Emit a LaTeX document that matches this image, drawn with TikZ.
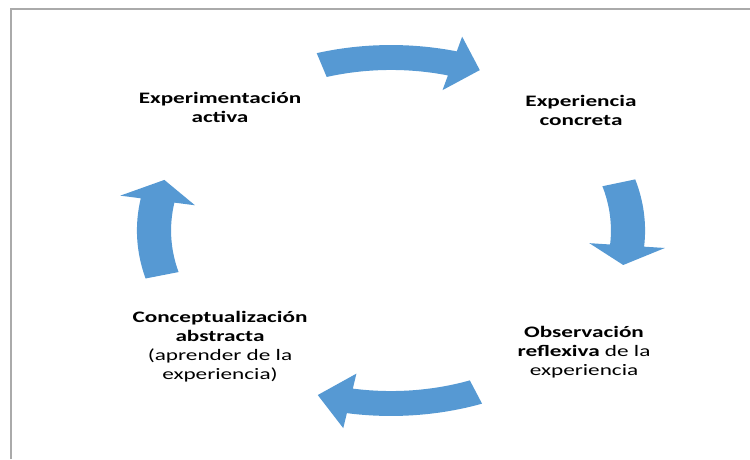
\documentclass[tikz,border=0pt]{standalone}
\usepackage{fontspec}
\setmainfont{Carlito}[FakeStretch=1.45]
\usepackage{tikz}
\usetikzlibrary{positioning}
\definecolor{cycleblue}{RGB}{86,153,211}
\definecolor{framegray}{RGB}{170,170,170}
\newcommand{\cyclearrow}[3]{%
  \fill[cycleblue] (#1:1.072) arc[start angle=#1, end angle=#2, radius=1.072]
    -- (#2:1.16) -- (#3:1.0) -- (#2:0.84) -- (#2:0.928)
    arc[start angle=#2, end angle=#1, radius=0.928] -- cycle;}

\begin{document}
\begin{tikzpicture}[x=1pt, y=1pt, every node/.style={align=center, font=\fontsize{16}{19}\selectfont}]
        \useasboundingbox (0,0) rectangle (750,459);
        \draw[framegray, line width=2pt] (11,0) -- (11,450) -- (750,450);
        \node (activa) at (220,352) {\textbf{Experimentación}\\\textbf{activa}};
        \node (concreta) at (581,349) {\textbf{Experiencia}\\\textbf{concreta}};
        \node (abstracta) at (220,112) {\textbf{Conceptualización}\\\textbf{abstracta}\\(aprender de la\\experiencia)};
        \node (reflexiva) at (584,107) {\textbf{Observación}\\\textbf{reflexiva} de la\\experiencia};
        \begin{scope}[shift={(391,228.5)}, xscale=237, yscale=173]
        \cyclearrow{107}{75}{68}
        \cyclearrow{16}{-5}{-11.5}
        \cyclearrow{-69}{-100}{-108}
        \cyclearrow{195}{170}{163}
        \end{scope}
    \end{tikzpicture}
\end{document}
